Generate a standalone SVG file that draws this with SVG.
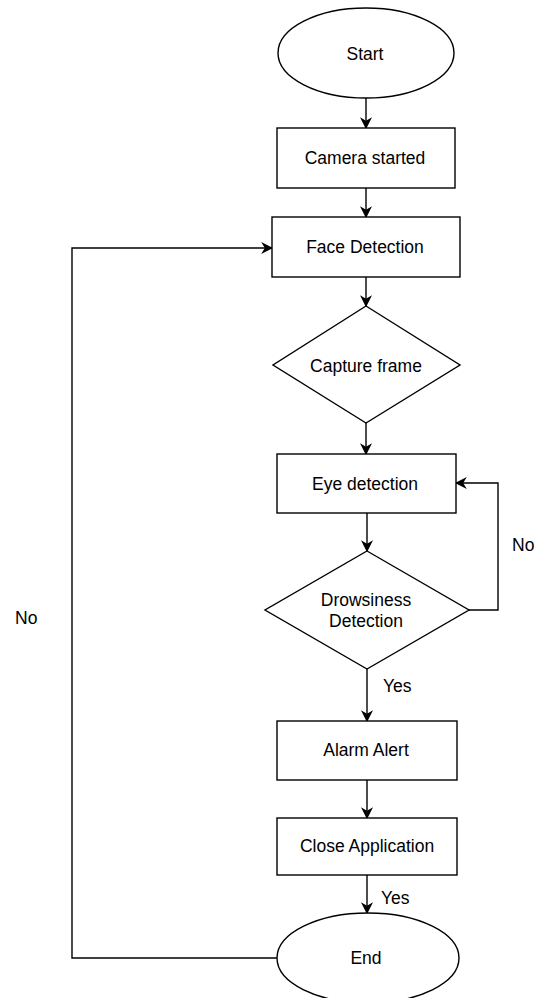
<svg xmlns="http://www.w3.org/2000/svg" width="538" height="998" viewBox="0 0 538 998">
<style>
.n{fill:#fff;stroke:#000;stroke-width:1.4}
.t{font-family:"Liberation Sans",Arial,sans-serif;font-size:17.5px;fill:#000;text-anchor:middle;dominant-baseline:central}
.l{font-family:"Liberation Sans",Arial,sans-serif;font-size:17.5px;fill:#000;dominant-baseline:central}
.c{fill:none;stroke:#000;stroke-width:1.4}
</style>
<defs>
<marker id="a" viewBox="0 0 10 10" refX="9" refY="5" markerWidth="12" markerHeight="12" markerUnits="userSpaceOnUse" orient="auto">
<path d="M0,0 L10,5 L0,10 L3,5 Z" fill="#000"/>
</marker>
</defs>
<rect width="538" height="998" fill="#fff"/>
<g id="connectors">
<path class="c" d="M366,98 V128" marker-end="url(#a)"/>
<path class="c" d="M366,188 V217" marker-end="url(#a)"/>
<path class="c" d="M366,277 V306" marker-end="url(#a)"/>
<path class="c" d="M366,423 V454" marker-end="url(#a)"/>
<path class="c" d="M367,513 V551" marker-end="url(#a)"/>
<path class="c" d="M469,610 H498 V483 H456" marker-end="url(#a)"/>
<path class="c" d="M367,669 V721" marker-end="url(#a)"/>
<path class="c" d="M367,780 V818" marker-end="url(#a)"/>
<path class="c" d="M367,875 V913" marker-end="url(#a)"/>
<path class="c" d="M277,958 H72 V248 H272" marker-end="url(#a)"/>
<text class="l" x="512" y="545">No</text>
<text class="l" x="15" y="618">No</text>
<text class="l" x="383" y="686">Yes</text>
<text class="l" x="381" y="898">Yes</text>
</g>
<g id="start"><ellipse class="n" cx="366" cy="53" rx="88" ry="45"/><text class="t" x="365" y="54">Start</text></g>
<g id="camera"><rect class="n" x="277" y="128" width="178" height="60"/><text class="t" x="365" y="158">Camera started</text></g>
<g id="face"><rect class="n" x="272" y="217" width="188" height="60"/><text class="t" x="365" y="247">Face Detection</text></g>
<g id="capture"><polygon class="n" points="366,306 460,365 366,423 273,365"/><text class="t" x="366" y="366">Capture frame</text></g>
<g id="eye"><rect class="n" x="277" y="454" width="179" height="59"/><text class="t" x="365" y="484">Eye detection</text></g>
<g id="drowsiness"><polygon class="n" points="367,551 469,610 367,669 265,610"/><text class="t" x="366" y="600">Drowsiness</text><text class="t" x="366" y="621">Detection</text></g>
<g id="alarm"><rect class="n" x="277" y="721" width="180" height="59"/><text class="t" x="366" y="750">Alarm Alert</text></g>
<g id="close"><rect class="n" x="277" y="818" width="180" height="57"/><text class="t" x="367" y="846">Close Application</text></g>
<g id="end"><ellipse class="n" cx="368" cy="958" rx="91" ry="45"/><text class="t" x="366" y="958">End</text></g>
</svg>
